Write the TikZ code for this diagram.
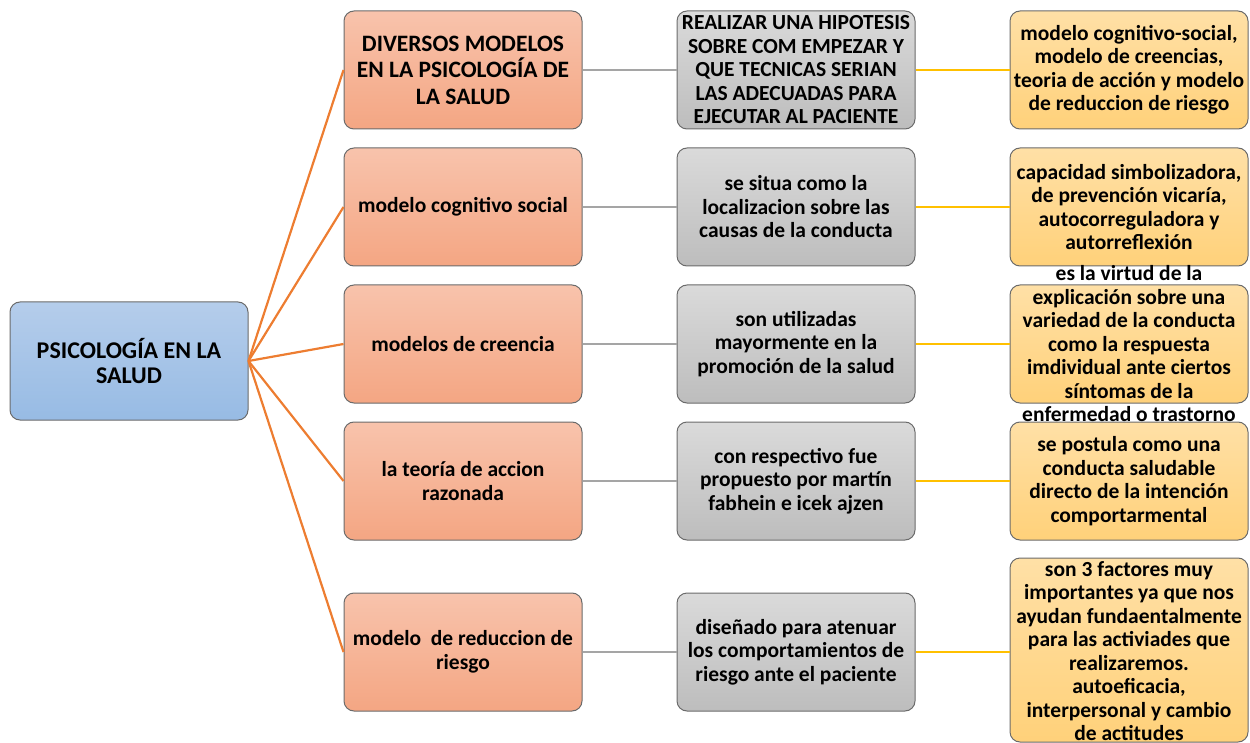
\documentclass[tikz,border=0pt]{standalone}
\usepackage{fontspec}
\setmainfont{Carlito}
\definecolor{bordc}{HTML}{6B6B6B}
\definecolor{ortop}{HTML}{F8C3AC}
\definecolor{orbot}{HTML}{F4A683}
\definecolor{grtop}{HTML}{DADADA}
\definecolor{grbot}{HTML}{BDBDBD}
\definecolor{yetop}{HTML}{FFE0A6}
\definecolor{yebot}{HTML}{FFD17A}
\definecolor{bltop}{HTML}{B5CDEB}
\definecolor{blbot}{HTML}{97BBE4}
\definecolor{orline}{HTML}{ED7D31}
\definecolor{grline}{HTML}{A5A5A5}
\definecolor{yeline}{HTML}{FFC000}
\tikzset{
  box/.style={rectangle, rounded corners=10pt, draw=bordc, line width=1pt,
    minimum width=238pt, minimum height=118pt, inner sep=0pt},
  rootbox/.style={box, top color=bltop, bottom color=blbot},
  orbox/.style={box, top color=ortop, bottom color=orbot},
  grbox/.style={box, top color=grtop, bottom color=grbot},
  yebox/.style={box, top color=yetop, bottom color=yebot},
  txt/.style={align=center, inner sep=0pt, font=\fontsize{21.5}{23.5}\selectfont\bfseries},
  bigtxt/.style={align=center, inner sep=0pt, font=\fontsize{23.5}{26.5}\selectfont\bfseries},
  roottxt/.style={align=center, inner sep=0pt, font=\fontsize{24}{25}\selectfont\bfseries},
  orl/.style={draw=orline, line width=2.2pt},
  grl/.style={draw=grline, line width=2.2pt},
  yel/.style={draw=yeline, line width=2.2pt},
}
\begin{document}
\begin{tikzpicture}[x=1pt,y=-1pt]
\useasboundingbox (0,0) rectangle (1250,743);
% root
\node[rootbox] (root) at (129,361) {};
\node[roottxt] (roott) at (root) {PSICOLOGÍA EN LA\\SALUD};
% orange column
\node[orbox] (o1) at (463,70) {};
\node[orbox] (o2) at (463,207) {};
\node[orbox] (o3) at (463,344) {};
\node[orbox] (o4) at (463,481) {};
\node[orbox] (o5) at (463,652) {};
\node[bigtxt] (o1t) at (o1) {DIVERSOS MODELOS\\EN LA PSICOLOGÍA DE\\LA SALUD};
\node[txt] (o2t) at (o2) {modelo cognitivo social};
\node[txt] (o3t) at (o3) {modelos de creencia};
\node[txt] (o4t) at (o4) {la teoría de accion\\razonada};
\node[txt] (o5t) at (o5) {modelo\ \ de reduccion de\\riesgo};
% gray column
\node[grbox] (g1) at (796,70) {};
\node[grbox] (g2) at (796,207) {};
\node[grbox] (g3) at (796,344) {};
\node[grbox] (g4) at (796,481) {};
\node[grbox] (g5) at (796,652) {};
\node[txt] (g1t) at (g1) {REALIZAR UNA HIPOTESIS\\SOBRE COM EMPEZAR Y\\QUE TECNICAS SERIAN\\LAS ADECUADAS PARA\\EJECUTAR AL PACIENTE};
\node[txt] (g2t) at (g2) {se situa como la\\localizacion sobre las\\causas de la conducta};
\node[txt] (g3t) at (g3) {son utilizadas\\mayormente en la\\promoción de la salud};
\node[txt] (g4t) at (g4) {con respectivo fue\\propuesto por martín\\fabhein e icek ajzen};
\node[txt] (g5t) at (g5) {diseñado para atenuar\\los comportamientos de\\riesgo ante el paciente};
% yellow column
\node[yebox] (y1) at (1129,70) {};
\node[yebox] (y2) at (1129,207) {};
\node[yebox] (y3) at (1129,344) {};
\node[yebox] (y4) at (1129,481) {};
\node[yebox, minimum height=184pt] (y5) at (1129,650) {};
\node[txt] (y1t) at (y1) {modelo cognitivo-social,\\modelo de creencias,\\teoria de acción y modelo\\de reduccion de riesgo};
\node[txt] (y2t) at (y2) {capacidad simbolizadora,\\de prevención vicaría,\\autocorreguladora y\\autorreflexión};
\node[txt] (y3t) at (y3) {es la virtud de la\\explicación sobre una\\variedad de la conducta\\como la respuesta\\imdividual ante ciertos\\síntomas de la\\enfermedad o trastorno};
\node[txt] (y4t) at (y4) {se postula como una\\conducta saludable\\directo de la intención\\comportarmental};
\node[txt] (y5t) at (1129,651) {son 3 factores muy\\importantes ya que nos\\ayudan fundaentalmente\\para las activiades que\\realizaremos.\\autoeficacia,\\interpersonal y cambio\\de actitudes};
% connectors
\foreach \i in {1,...,5} {
  \draw[orl] (root.east) -- (o\i.west);
  \draw[grl] (o\i.east) -- (g\i.west);
  \draw[yel] (g\i.east) -- (g\i.east -| y\i.west);
}
\end{tikzpicture}
\end{document}
